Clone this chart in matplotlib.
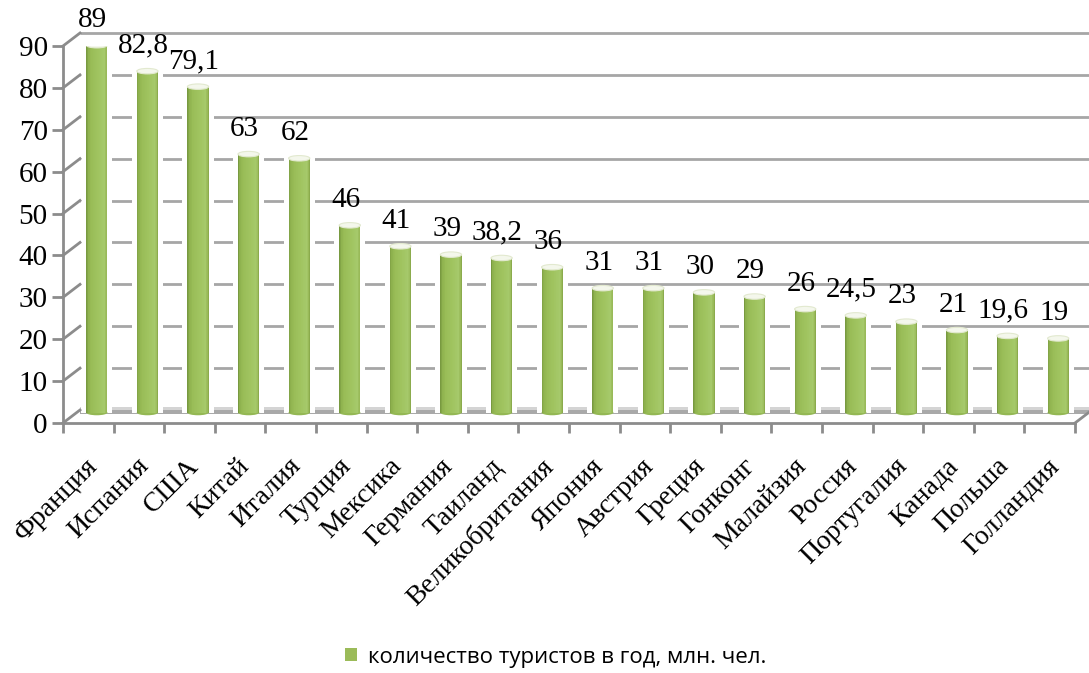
import matplotlib
matplotlib.use("Agg")
import matplotlib.pyplot as plt
import matplotlib.transforms as mtransforms
from matplotlib.patches import Ellipse, Rectangle
from matplotlib.lines import Line2D
import numpy as np

categories = ["Франция", "Испания", "США", "Китай", "Италия", "Турция", "Мексика",
              "Германия", "Таиланд", "Великобритания", "Япония", "Австрия", "Греция",
              "Гонконг", "Малайзия", "Россия", "Португалия", "Канада", "Польша", "Голландия"]
values = [89, 82.8, 79.1, 63, 62, 46, 41, 39, 38.2, 36, 31, 31, 30, 29, 26, 24.5, 23, 21, 19.6, 19]
value_labels = ["89", "82,8", "79,1", "63", "62", "46", "41", "39", "38,2", "36", "31", "31",
                "30", "29", "26", "24,5", "23", "21", "19,6", "19"]
yticks = [0, 10, 20, 30, 40, 50, 60, 70, 80, 90]
legend_label = "количество туристов в год, млн. чел."

W, H, DPI = 1089, 673, 100
fig = plt.figure(figsize=(W / DPI, H / DPI), dpi=DPI)

# front-plane axes geometry in pixels
x0_px, x1_px = 63, 1075
y0_px, y90_px = 423, 46
ax = fig.add_axes([x0_px / W, (H - y0_px) / H, (x1_px - x0_px) / W, (y0_px - y90_px) / H])
n = len(categories)
ax.set_xlim(0, n)
ax.set_ylim(0, 90)
ax.patch.set_alpha(0)

serif = "Liberation Serif"
grid_c = "#a6a6a6"
axis_c = "#8c8c8c"

def offs(dx, dy):
    return ax.transData + mtransforms.ScaledTranslation(dx / DPI, dy / DPI, fig.dpi_scale_trans)

back = offs(17, 13)
mid = offs(8.5, 5)

# back wall gridlines
for v in yticks[1:]:
    ax.plot([0, n + 0.3], [v, v], color=grid_c, lw=2, transform=back, zorder=1,
            clip_on=False, solid_capstyle="butt")

# left wall diagonals and floor edges (display coords)
fig.canvas.draw()
def disp(x, y):
    return ax.transData.transform((x, y))
for v in yticks:
    p = disp(0, v)
    fig.add_artist(Line2D([p[0], p[0] + 17], [p[1], p[1] + 13], color=axis_c, lw=2,
                          transform=None, zorder=2))
p = disp(n, 0)
fig.add_artist(Line2D([p[0], p[0] + 17], [p[1], p[1] + 13], color=axis_c, lw=2,
                      transform=None, zorder=2))

# floor slab (gray band at the back)
ax.fill_between([0, n + 0.3], [-0.9, -0.9], [-0.1, -0.1], color="#a9a9a9", lw=0,
                transform=back, zorder=1.5, clip_on=False)
ax.fill_between([0, n + 0.3], [-0.1, -0.1], [0.6, 0.6], color="#d4d4d4", lw=0,
                transform=back, zorder=1.5, clip_on=False)

# bars: cylinders built from vertical strips of shaded green
xc = np.arange(n) + 0.5
bw = 0.42
floor = 1.3
vals = np.array(values, dtype=float)
ax.bar(xc, vals - floor, bottom=floor, width=bw + 0.2, color="white", lw=0,
       transform=mid, zorder=3)
nstrip = 30
edges = np.linspace(-bw / 2, bw / 2, nstrip + 1)
stops_t = [0.0, 0.08, 0.25, 0.6, 0.85, 0.95, 1.0]
stops_c = [(0.45, 0.58, 0.24), (0.55, 0.69, 0.30), (0.60, 0.74, 0.34), (0.63, 0.77, 0.38),
           (0.65, 0.79, 0.42), (0.60, 0.73, 0.35), (0.52, 0.64, 0.28)]
stops_c = np.array(stops_c)
for k in range(nstrip):
    t = (k + 0.5) / nstrip
    col = [np.interp(t, stops_t, stops_c[:, j]) for j in range(3)]
    ax.bar(xc + (edges[k] + edges[k + 1]) / 2, vals - floor, bottom=floor,
           width=(bw / nstrip) * 1.08, color=col, lw=0, transform=mid, zorder=4)
ell_h = 1.3
for x, v in zip(xc, vals):
    ax.add_patch(Ellipse((x, floor), bw, ell_h, facecolor=(0.58, 0.72, 0.33), lw=0,
                         transform=mid, zorder=3.9))
    ax.add_patch(Ellipse((x, v), bw, ell_h, facecolor="#f4f7ec", edgecolor="#e2e9cf",
                         lw=0.8, transform=mid, zorder=5))

# value labels
for x, v, s in zip(xc, vals, value_labels):
    ax.annotate(s, (x, v), xytext=(-3, 9), textcoords="offset points", xycoords=mid,
                ha="center", va="bottom", fontsize=21, family=serif, zorder=6)

# axes styling
for sp in ["top", "right"]:
    ax.spines[sp].set_visible(False)
for sp in ["left", "bottom"]:
    ax.spines[sp].set_color(axis_c)
    ax.spines[sp].set_linewidth(2)
    ax.spines[sp].set_zorder(2.5)
ax.set_yticks(yticks)
ax.set_yticklabels([str(v) for v in yticks], fontsize=21, family=serif)
ax.tick_params(axis="y", length=8, width=2, color=axis_c, pad=3)
ax.set_xticks(xc)
ax.set_xticklabels(categories, rotation=45, ha="right", rotation_mode="anchor",
                   fontsize=20, family=serif)
ax.tick_params(axis="x", which="major", length=0, pad=22)
ax.set_xticks(np.arange(n + 1), minor=True)
ax.tick_params(axis="x", which="minor", length=7, width=2, color=axis_c)
for lab in ax.get_xticklabels():
    lab.set_transform(lab.get_transform() + mtransforms.ScaledTranslation(-3 / DPI, 0, fig.dpi_scale_trans))

# legend
handle = Rectangle((0, 0), 1, 1, facecolor="#9bbb59", edgecolor="none")
fig.legend([handle], [legend_label], loc="center", bbox_to_anchor=(0.51, 1 - 657 / H),
           frameon=False, prop={"family": "Open Sans", "size": 16}, handlelength=0.55,
           handleheight=0.55, handletextpad=0.5)

fig.savefig("out.png", dpi=DPI)
